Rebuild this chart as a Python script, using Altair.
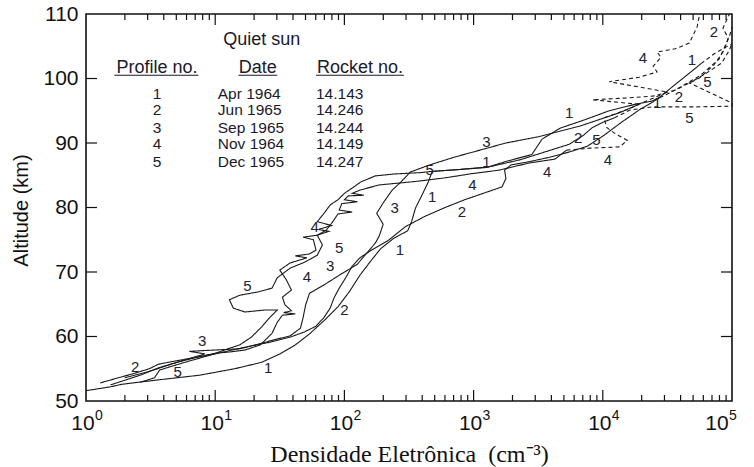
import altair as alt
import pandas as pd

# ---------------- data ----------------
# each point: (log10 electron density [cm^-3], altitude [km])
P1_SOLID = [(0.0, 51.6), (0.19, 52.2), (0.28, 52.6), (0.57, 53.3), (0.88, 54.0), (1.15, 55.0),
            (1.36, 56.0), (1.5, 57.3), (1.62, 58.7), (1.73, 60.4), (1.85, 62.6), (1.95, 64.6),
            (2.04, 67.0), (2.12, 69.5), (2.2, 71.6), (2.28, 73.6), (2.38, 75.2), (2.49, 76.4),
            (2.52, 77.8), (2.55, 79.9), (2.6, 81.9), (2.65, 84.0), (2.68, 85.6), (2.9, 85.9),
            (3.1, 86.2), (3.26, 87.2), (3.45, 88.2), (3.53, 90.6), (3.67, 92.3), (3.86, 93.6),
            (4.05, 95.0), (4.25, 96.0), (4.38, 96.5), (4.44, 97.1), (4.55, 98.9), (4.65, 100.5),
            (4.76, 102.3)]
P1_DASH = [(4.76, 102.3), (4.86, 103.8), (5.0, 105.4)]

P2_SOLID = [(0.11, 52.8), (0.25, 53.6), (0.36, 54.2), (0.49, 55.0), (0.56, 55.7), (0.69, 56.2),
            (0.86, 56.8), (1.0, 57.3), (1.13, 57.9), (1.27, 58.5), (1.42, 59.1), (1.58, 59.9),
            (1.69, 60.7), (1.78, 61.6), (1.84, 62.9), (1.89, 64.4), (1.92, 66.0), (1.96, 67.5),
            (2.01, 69.1), (2.06, 70.9), (2.12, 72.2), (2.21, 73.4), (2.34, 74.9), (2.47, 77.0),
            (2.62, 78.6), (2.78, 80.0), (2.93, 81.2), (3.09, 82.3), (3.22, 83.2), (3.25, 84.5),
            (3.24, 85.8), (3.29, 86.6), (3.43, 87.1), (3.59, 87.8), (3.74, 88.6), (3.88, 89.5),
            (4.01, 91.2), (4.13, 93.0), (4.28, 95.1), (4.44, 97.0)]
P2_DASH = [(4.44, 97.0), (4.59, 98.5), (4.75, 100.1), (4.86, 102.1), (4.94, 104.4), (4.97, 106.3),
           (4.93, 107.8), (4.98, 110.0)]

P3_SOLID = [(0.19, 52.5), (0.42, 54.0), (0.57, 55.2), (0.77, 56.4), (0.92, 57.3), (0.8, 57.7),
            (1.19, 58.1), (1.31, 58.7), (1.46, 59.5), (1.58, 60.1), (1.66, 61.3), (1.68, 62.9),
            (1.7, 64.9), (1.73, 66.7), (1.85, 68.1), (1.96, 69.5), (2.1, 71.2), (2.18, 73.1),
            (2.24, 74.5), (2.27, 75.6), (2.3, 77.4), (2.25, 79.1), (2.3, 80.7), (2.37, 82.7),
            (2.44, 84.0), (2.51, 85.5), (2.66, 86.6), (2.85, 87.8), (3.05, 88.9), (3.25, 90.0),
            (3.51, 91.0), (3.82, 92.6), (4.13, 94.7), (4.28, 96.0)]
P3_DASH = [(4.28, 96.0), (3.92, 96.7), (4.2, 97.0), (4.4, 97.3), (4.56, 98.2), (4.75, 100.4),
           (4.9, 103.0), (4.98, 106.5), (5.0, 108.0)]

P4_SOLID = [(0.3, 53.6), (0.49, 54.6), (0.69, 55.9), (0.88, 56.9), (1.0, 57.4), (1.11, 57.6),
            (1.23, 57.9), (1.35, 58.7), (1.44, 60.5), (1.48, 62.2), (1.52, 63.3), (1.62, 63.5),
            (1.53, 63.7), (1.59, 64.0), (1.54, 64.9), (1.52, 66.1), (1.59, 67.2), (1.55, 68.8),
            (1.5, 70.3), (1.58, 71.4), (1.71, 72.2), (1.62, 72.5), (1.73, 72.8), (1.78, 73.4),
            (1.76, 75.0), (1.68, 75.4), (1.79, 75.7), (1.86, 76.5), (1.91, 77.8), (1.95, 79.0),
            (2.06, 79.3), (1.96, 79.6), (1.98, 80.6), (2.1, 80.9), (2.0, 81.2), (2.03, 81.8),
            (2.15, 81.9), (2.06, 82.2), (2.12, 82.7), (2.27, 83.5), (2.43, 83.8), (2.58, 84.1),
            (2.78, 84.6), (2.97, 85.2), (3.2, 85.8), (3.43, 86.9), (3.63, 87.5), (3.72, 88.9)]
P4_DASH = [(3.72, 88.9), (3.9, 89.2), (4.13, 89.4), (4.19, 90.4), (4.1, 91.4), (4.03, 92.4),
           (4.01, 93.9), (4.19, 95.2), (4.36, 96.7), (4.5, 97.9), (4.05, 99.5), (4.28, 100.2),
           (4.42, 101.0), (4.39, 101.9), (4.45, 103.3), (4.42, 104.1), (4.56, 104.6),
           (4.67, 105.5), (4.73, 108.0), (4.75, 110.0)]

P5_SOLID = [(0.42, 52.9), (0.53, 53.6), (0.57, 54.8), (0.65, 55.3), (0.8, 56.2), (0.96, 57.1),
            (1.1, 58.1), (1.19, 58.7), (1.28, 59.9), (1.36, 61.5), (1.42, 62.9), (1.48, 64.1),
            (1.38, 64.1), (1.23, 63.8), (1.14, 64.4), (1.11, 65.7), (1.19, 66.4), (1.33, 66.9),
            (1.44, 67.5), (1.48, 69.1), (1.58, 70.6), (1.69, 71.5), (1.79, 72.6), (1.83, 74.2),
            (1.79, 75.7), (1.88, 76.3), (1.8, 76.6), (1.9, 77.2), (1.79, 77.8), (1.85, 79.3),
            (1.89, 80.4), (1.95, 81.2), (2.0, 82.2), (2.06, 83.0), (2.13, 84.0), (2.24, 84.9),
            (2.39, 85.2), (2.58, 85.4), (2.68, 85.6), (2.89, 85.9), (3.12, 86.3), (3.36, 87.4),
            (3.55, 88.6), (3.74, 89.8), (3.85, 91.2), (3.92, 92.4), (4.0, 93.2), (4.09, 93.9)]
P5_DASH = [(4.09, 93.9), (4.21, 95.1), (4.38, 95.6), (4.7, 95.6), (5.0, 95.7), (5.0, 96.2),
           (4.67, 99.3), (4.8, 100.8), (4.92, 102.4), (4.98, 104.4), (5.0, 105.5)]

# curve labels: (log10 density, altitude)
LABELS_1 = [(1.41, 55.1), (2.43, 73.4), (2.68, 81.6), (3.1, 87.1), (3.74, 94.7), (4.42, 96.2), (4.69, 102.9)]
LABELS_2 = [(0.38, 55.3), (2.0, 64.1), (2.91, 79.3), (3.81, 90.8), (4.59, 97.1), (4.86, 107.2)]
LABELS_3 = [(0.9, 59.3), (1.89, 70.9), (2.39, 79.9), (3.1, 90.2)]
LABELS_4 = [(1.71, 69.2), (1.77, 77.0), (2.99, 83.5), (3.57, 85.5), (4.04, 87.4), (4.31, 103.2)]
LABELS_5 = [(0.71, 54.5), (1.25, 67.8), (1.96, 73.7), (2.66, 85.8), (3.95, 90.5), (4.81, 99.5), (4.67, 93.9)]

# inset table
TABLE_TITLE = "Quiet sun"
TABLE_HEADERS = ["Profile no.", "Date", "Rocket no."]
TABLE_NUMBERS = ["1", "2", "3", "4", "5"]
TABLE_DATES = ["Apr 1964", "Jun 1965", "Sep 1965", "Nov 1964", "Dec 1965"]
TABLE_ROCKETS = ["14.143", "14.246", "14.244", "14.149", "14.247"]
TABLE_ROW_ALT = [97.6, 95.1, 92.3, 89.8, 87.1]
HEADER_LOGN = [0.55, 1.33, 2.12]
UNDERLINE_LOGN = [(0.22, 0.87), (1.18, 1.48), (1.78, 2.46)]
HEADER_ALT, UNDERLINE_ALT, TITLE_ALT, TITLE_LOGN = 101.6, 100.5, 106.0, 1.36
COL_NUM_LOGN, COL_DATE_LOGN, COL_ROCKET_LOGN = 0.55, 1.02, 1.78

# axes
X_DECADES = [1, 10, 100, 1000, 10000, 100000]
X_EXPONENTS = ["0", "1", "2", "3", "4", "5"]
X_MINOR = [m * d for d in [1, 10, 100, 1000, 10000] for m in range(2, 10)]
Y_TICKS = [50, 60, 70, 80, 90, 100, 110]
Y_INNER = [60, 70, 80, 90, 100]

# ---------------- build ----------------
W, H = 646, 387
FONT = "Liberation Sans"
INK = "#111111"

rows = []
for name, segs in (("1", (P1_SOLID, P1_DASH)), ("2", (P2_SOLID, P2_DASH)), ("3", (P3_SOLID, P3_DASH)),
                   ("4", (P4_SOLID, P4_DASH)), ("5", (P5_SOLID, P5_DASH))):
    for style, seg in zip(("solid", "dashed"), segs):
        for i, (ln, a) in enumerate(seg):
            rows.append(dict(profile=name, style=style, key=f"{name}-{style}", i=i, n=10 ** ln, alt=a))
df = pd.DataFrame(rows)

lab_rows = []
for name, pts in (("1", LABELS_1), ("2", LABELS_2), ("3", LABELS_3), ("4", LABELS_4), ("5", LABELS_5)):
    for ln, a in pts:
        lab_rows.append(dict(t=name, n=10 ** ln, alt=a))
labdf = pd.DataFrame(lab_rows)

xs = alt.Scale(type="log", domain=[1, 100000], nice=False)
ys = alt.Scale(domain=[50, 110], nice=False, zero=False)

X_AXIS = alt.Axis(
    title="Densidade Eletrônica\u00a0 (cm⁻³)", labels=False, ticks=False, domain=False, grid=False,
    titleFont="Liberation Serif", titleFontSize=24, titleFontWeight="normal", titleColor=INK,
    titleY=60, titleBaseline="alphabetic")
Y_AXIS = alt.Axis(
    title="Altitude (km)", values=Y_TICKS, ticks=False, domain=False, grid=False,
    labelFont=FONT, labelFontSize=21, labelColor=INK, labelPadding=8, labelOverlap=False,
    titleFont=FONT, titleFontSize=20, titleFontWeight="normal", titleColor=INK,
    titleX=-59, titleY=196, titleAngle=270, titleAlign="center", titleBaseline="alphabetic")


def X(field):
    return alt.X(field, scale=xs, axis=X_AXIS)


def Y(field):
    return alt.Y(field, scale=ys, axis=Y_AXIS)


lines = alt.Chart(df).mark_line(color="#1a1a1a", strokeWidth=1.1).encode(
    x=X("n:Q"),
    y=Y("alt:Q"),
    strokeDash=alt.StrokeDash("style:N", scale=alt.Scale(domain=["solid", "dashed"], range=[[1, 0], [4, 3]]),
                              legend=None),
    detail="key:N",
    order="i:Q",
)

curve_labels = alt.Chart(labdf).mark_text(font=FONT, fontSize=15, color="#222233",
                                          align="center", baseline="middle").encode(
    x=X("n:Q"), y=Y("alt:Q"), text="t:N")

# ticks (inward)
xmaj = pd.DataFrame({"v": X_DECADES[1:-1]})
xmin = pd.DataFrame({"v": X_MINOR})
ymaj = pd.DataFrame({"v": Y_INNER})
tick_style = dict(color=INK, strokeWidth=1.2)


def xticks(data, y0, y1):
    return alt.Chart(data).mark_rule(**tick_style).encode(
        x=X("v:Q"), y=alt.value(y0), y2=alt.value(y1))


def yticks(x0, x1):
    return alt.Chart(ymaj).mark_rule(**tick_style).encode(
        y=Y("v:Q"), x=alt.value(x0), x2=alt.value(x1))


ticks = [xticks(xmaj, H, H - 11), xticks(xmin, H, H - 6), xticks(xmaj, 0, 11), xticks(xmin, 0, 6),
         yticks(0, 11), yticks(W, W - 11)]

# x tick labels with superscript exponents
xl = pd.DataFrame({"v": X_DECADES[:-1], "e": X_EXPONENTS[:-1]})
xl_last = pd.DataFrame({"v": X_DECADES[-1:], "e": X_EXPONENTS[-1:]})


def xlabels(data, dx):
    base = alt.Chart(data).mark_text(font=FONT, fontSize=21, color=INK, align="center",
                                     baseline="alphabetic", dx=dx).encode(
        x=X("v:Q"), y=alt.value(H + 29), text=alt.value("10"))
    sup = alt.Chart(data).mark_text(font=FONT, fontSize=14, color=INK, align="left",
                                    baseline="alphabetic", dx=dx + 12).encode(
        x=X("v:Q"), y=alt.value(H + 19), text="e:N")
    return [base, sup]


xlab_layers = xlabels(xl, -3) + xlabels(xl_last, -15)

# inset table
title_df = pd.DataFrame({"n": [10 ** TITLE_LOGN], "alt": [TITLE_ALT], "t": [TABLE_TITLE]})
head_df = pd.DataFrame({"n": [10 ** v for v in HEADER_LOGN], "alt": [HEADER_ALT] * 3, "t": TABLE_HEADERS})
ul_df = pd.DataFrame({"a": [10 ** a for a, b in UNDERLINE_LOGN], "b": [10 ** b for a, b in UNDERLINE_LOGN],
                      "alt": [UNDERLINE_ALT] * 3})
num_df = pd.DataFrame({"n": [10 ** COL_NUM_LOGN] * 5, "alt": TABLE_ROW_ALT, "t": TABLE_NUMBERS})
date_df = pd.DataFrame({"n": [10 ** COL_DATE_LOGN] * 5, "alt": TABLE_ROW_ALT, "t": TABLE_DATES})
rock_df = pd.DataFrame({"n": [10 ** COL_ROCKET_LOGN] * 5, "alt": TABLE_ROW_ALT, "t": TABLE_ROCKETS})


def table_text(data, size, align):
    return alt.Chart(data).mark_text(font=FONT, fontSize=size, color="#1a1a2a", align=align,
                                     baseline="middle").encode(
        x=X("n:Q"), y=Y("alt:Q"), text="t:N")


table_layers = [
    table_text(title_df, 18, "center"),
    table_text(head_df, 18, "center"),
    alt.Chart(ul_df).mark_rule(color="#1a1a2a", strokeWidth=1.1).encode(
        x=X("a:Q"), x2="b:Q", y=Y("alt:Q")),
    table_text(num_df, 15.5, "center"),
    table_text(date_df, 15.5, "left"),
    table_text(rock_df, 15.5, "left"),
]

chart = alt.layer(lines, curve_labels, *ticks, *xlab_layers, *table_layers).properties(
    width=W, height=H,
    padding={"left": 86, "top": 14, "right": 22, "bottom": 66},
    autosize=alt.AutoSizeParams(type="none"),
    background="white",
).configure_view(stroke=INK, strokeWidth=1.6)

chart.save("out.html", embed_options={"renderer": "svg", "actions": False})
